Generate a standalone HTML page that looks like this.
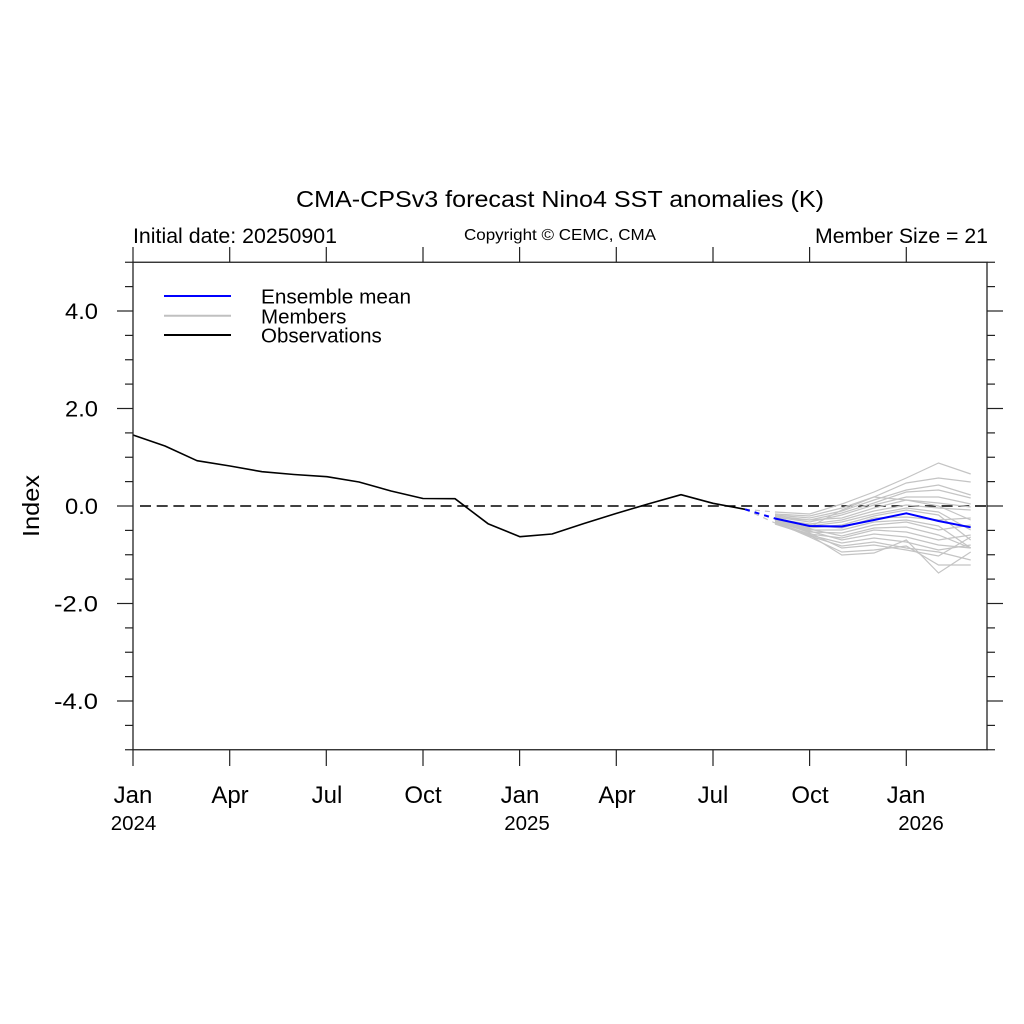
<!DOCTYPE html>
<html><head><meta charset="utf-8"><style>
html,body{margin:0;padding:0;background:#fff;}
svg{display:block;}
text{font-family:"Liberation Sans","DejaVu Sans",sans-serif;fill:#000;}
</style></head><body>
<svg width="1024" height="1024" viewBox="0 0 1024 1024" xmlns="http://www.w3.org/2000/svg">
<rect width="1024" height="1024" fill="#fff"/>
<!-- titles -->
<text x="296" y="207" font-size="23" textLength="528" lengthAdjust="spacingAndGlyphs">CMA-CPSv3 forecast Nino4 SST anomalies (K)</text>
<text x="133" y="243" font-size="21" textLength="204" lengthAdjust="spacingAndGlyphs">Initial date: 20250901</text>
<text x="464" y="240" font-size="16" textLength="192" lengthAdjust="spacingAndGlyphs">Copyright © CEMC, CMA</text>
<text x="815" y="243" font-size="21" textLength="173" lengthAdjust="spacingAndGlyphs">Member Size = 21</text>

<!-- zero dashed line -->
<line x1="140" y1="506" x2="987" y2="506" stroke="#000" stroke-width="1.4" stroke-dasharray="11 5.7"/>

<!-- members -->
<g fill="none" stroke="#c4c4c4" stroke-width="1.2">
<polyline points="775,512 809.6,514 841.8,504 874,492 906.3,478 938.5,463 970.7,474"/>
<polyline points="775,514 809.6,516 841.8,508 874,497 906.3,483 938.5,478 970.7,482"/>
<polyline points="775,515 809.6,518 841.8,511 874,500 906.3,490 938.5,485 970.7,495"/>
<polyline points="775,516 809.6,520 841.8,513 874,503 906.3,492 938.5,490 970.7,498"/>
<polyline points="775,517 809.6,522 841.8,515 874,505 906.3,497 938.5,497 970.7,504"/>
<polyline points="775,518 809.6,520 841.8,518 874,508 906.3,500 938.5,503 970.7,507"/>
<polyline points="775,519 809.6,524 841.8,520 874,511 906.3,505 938.5,508 970.7,510"/>
<polyline points="775,518 809.6,526 841.8,522 874,514 906.3,508 938.5,512 970.7,530"/>
<polyline points="775,520 809.6,528 841.8,525 874,516 906.3,510 938.5,515 970.7,540"/>
<polyline points="775,521 809.6,525 841.8,528 874,518 906.3,517 938.5,520 970.7,518"/>
<polyline points="775,520 809.6,530 841.8,530 874,522 906.3,520 938.5,526 970.7,548"/>
<polyline points="775,522 809.6,532 841.8,533 874,525 906.3,522 938.5,530 970.7,525"/>
<polyline points="775,519 809.6,529 841.8,536 874,528 906.3,527 938.5,535 970.7,548"/>
<polyline points="775,523 809.6,534 841.8,538 874,530 906.3,532 938.5,540 970.7,535"/>
<polyline points="775,521 809.6,531 841.8,540 874,534 906.3,537 938.5,545 970.7,548"/>
<polyline points="775,522 809.6,535 841.8,543 874,538 906.3,542 938.5,550 970.7,545"/>
<polyline points="775,523 809.6,536 841.8,546 874,542 906.3,548 938.5,552 970.7,560"/>
<polyline points="775,520 809.6,533 841.8,548 874,545 906.3,550 938.5,556 970.7,537"/>
<polyline points="775,522 809.6,537 841.8,552 874,550 906.3,546 938.5,565 970.7,565"/>
<polyline points="775,524 809.6,535 841.8,555 874,553 906.3,540 938.5,573 970.7,552"/>
<polyline points="775,518 809.6,527 841.8,510 874,497 906.3,500 938.5,506 970.7,520"/>
</g>
<g fill="none" stroke="#c4c4c4" stroke-width="1.2" stroke-dasharray="5 5">
<line x1="745" y1="509.3" x2="775" y2="512"/>
<line x1="745" y1="509.3" x2="775" y2="523"/>
</g>

<!-- observations -->
<polyline fill="none" stroke="#000" stroke-width="1.6" stroke-linejoin="round" points="133,435 165,446 197,460.7 230,466 262,471.7 294,474.5 327,476.7 359,482 391,491 423,498.5 455,498.7 488,523.7 520,536.7 552,534 584,523.5 616,513.5 648,504 681,494.7 713,503.3 745,509.3"/>

<!-- ensemble mean -->
<line x1="745" y1="509.3" x2="775" y2="518.5" stroke="#0000ff" stroke-width="2" stroke-dasharray="5 5"/>
<polyline fill="none" stroke="#0000ff" stroke-width="2" stroke-linejoin="round" points="775,518.5 809.6,526 841.8,526.5 874,520 906.3,513.3 938.5,521 970.7,527.3"/>

<!-- frame -->
<rect x="133" y="262.25" width="854" height="487.5" fill="none" stroke="#222" stroke-width="1.3"/>

<!-- left / right ticks -->
<g stroke="#222" stroke-width="1.2">
<line x1="125" y1="262.25" x2="133" y2="262.25"/><line x1="125" y1="286.6" x2="133" y2="286.6"/>
<line x1="117" y1="311" x2="133" y2="311"/><line x1="125" y1="335.4" x2="133" y2="335.4"/>
<line x1="125" y1="359.75" x2="133" y2="359.75"/><line x1="125" y1="384.1" x2="133" y2="384.1"/>
<line x1="117" y1="408.5" x2="133" y2="408.5"/><line x1="125" y1="432.9" x2="133" y2="432.9"/>
<line x1="125" y1="457.25" x2="133" y2="457.25"/><line x1="125" y1="481.6" x2="133" y2="481.6"/>
<line x1="117" y1="506" x2="133" y2="506"/><line x1="125" y1="530.4" x2="133" y2="530.4"/>
<line x1="125" y1="554.75" x2="133" y2="554.75"/><line x1="125" y1="579.1" x2="133" y2="579.1"/>
<line x1="117" y1="603.5" x2="133" y2="603.5"/><line x1="125" y1="627.9" x2="133" y2="627.9"/>
<line x1="125" y1="652.25" x2="133" y2="652.25"/><line x1="125" y1="676.6" x2="133" y2="676.6"/>
<line x1="117" y1="701" x2="133" y2="701"/><line x1="125" y1="725.4" x2="133" y2="725.4"/>
<line x1="125" y1="749.75" x2="133" y2="749.75"/>

<line x1="987" y1="262.25" x2="995" y2="262.25"/><line x1="987" y1="286.6" x2="995" y2="286.6"/>
<line x1="987" y1="311" x2="1003" y2="311"/><line x1="987" y1="335.4" x2="995" y2="335.4"/>
<line x1="987" y1="359.75" x2="995" y2="359.75"/><line x1="987" y1="384.1" x2="995" y2="384.1"/>
<line x1="987" y1="408.5" x2="1003" y2="408.5"/><line x1="987" y1="432.9" x2="995" y2="432.9"/>
<line x1="987" y1="457.25" x2="995" y2="457.25"/><line x1="987" y1="481.6" x2="995" y2="481.6"/>
<line x1="987" y1="506" x2="1003" y2="506"/><line x1="987" y1="530.4" x2="995" y2="530.4"/>
<line x1="987" y1="554.75" x2="995" y2="554.75"/><line x1="987" y1="579.1" x2="995" y2="579.1"/>
<line x1="987" y1="603.5" x2="1003" y2="603.5"/><line x1="987" y1="627.9" x2="995" y2="627.9"/>
<line x1="987" y1="652.25" x2="995" y2="652.25"/><line x1="987" y1="676.6" x2="995" y2="676.6"/>
<line x1="987" y1="701" x2="1003" y2="701"/><line x1="987" y1="725.4" x2="995" y2="725.4"/>
<line x1="987" y1="749.75" x2="995" y2="749.75"/>

<!-- top / bottom ticks -->
<line x1="133" y1="247" x2="133" y2="262"/><line x1="229.7" y1="247" x2="229.7" y2="262"/>
<line x1="326.3" y1="247" x2="326.3" y2="262"/><line x1="423" y1="247" x2="423" y2="262"/>
<line x1="519.6" y1="247" x2="519.6" y2="262"/><line x1="616.3" y1="247" x2="616.3" y2="262"/>
<line x1="713" y1="247" x2="713" y2="262"/><line x1="809.6" y1="247" x2="809.6" y2="262"/>
<line x1="906.3" y1="247" x2="906.3" y2="262"/>

<line x1="133" y1="750" x2="133" y2="766"/><line x1="229.7" y1="750" x2="229.7" y2="766"/>
<line x1="326.3" y1="750" x2="326.3" y2="766"/><line x1="423" y1="750" x2="423" y2="766"/>
<line x1="519.6" y1="750" x2="519.6" y2="766"/><line x1="616.3" y1="750" x2="616.3" y2="766"/>
<line x1="713" y1="750" x2="713" y2="766"/><line x1="809.6" y1="750" x2="809.6" y2="766"/>
<line x1="906.3" y1="750" x2="906.3" y2="766"/>
</g>

<!-- y labels -->
<g font-size="22" text-anchor="end">
<text x="98" y="319" textLength="33" lengthAdjust="spacingAndGlyphs">4.0</text>
<text x="98" y="416.5" textLength="33" lengthAdjust="spacingAndGlyphs">2.0</text>
<text x="98" y="514" textLength="33" lengthAdjust="spacingAndGlyphs">0.0</text>
<text x="98" y="611.5" textLength="44" lengthAdjust="spacingAndGlyphs">-2.0</text>
<text x="98" y="709" textLength="44" lengthAdjust="spacingAndGlyphs">-4.0</text>
</g>
<text transform="translate(39,537) rotate(-90)" font-size="23" textLength="62" lengthAdjust="spacingAndGlyphs">Index</text>

<!-- x labels -->
<g font-size="24" text-anchor="middle">
<text x="133" y="803">Jan</text>
<text x="230" y="803">Apr</text>
<text x="327" y="803">Jul</text>
<text x="423" y="803">Oct</text>
<text x="520" y="803">Jan</text>
<text x="617" y="803">Apr</text>
<text x="713" y="803">Jul</text>
<text x="810" y="803">Oct</text>
<text x="906" y="803">Jan</text>
</g>
<g font-size="20.5" text-anchor="middle">
<text x="133.5" y="830">2024</text>
<text x="527" y="830">2025</text>
<text x="921" y="830">2026</text>
</g>

<!-- legend -->
<line x1="164" y1="296" x2="231" y2="296" stroke="#0000ff" stroke-width="2"/>
<line x1="164" y1="315.7" x2="231" y2="315.7" stroke="#c0c0c0" stroke-width="2"/>
<line x1="164" y1="335" x2="231" y2="335" stroke="#000" stroke-width="2"/>
<g font-size="20.5">
<text x="261" y="303.5" textLength="150" lengthAdjust="spacingAndGlyphs">Ensemble mean</text>
<text x="261" y="323.3">Members</text>
<text x="261" y="342.7">Observations</text>
</g>
</svg>
</body></html>
